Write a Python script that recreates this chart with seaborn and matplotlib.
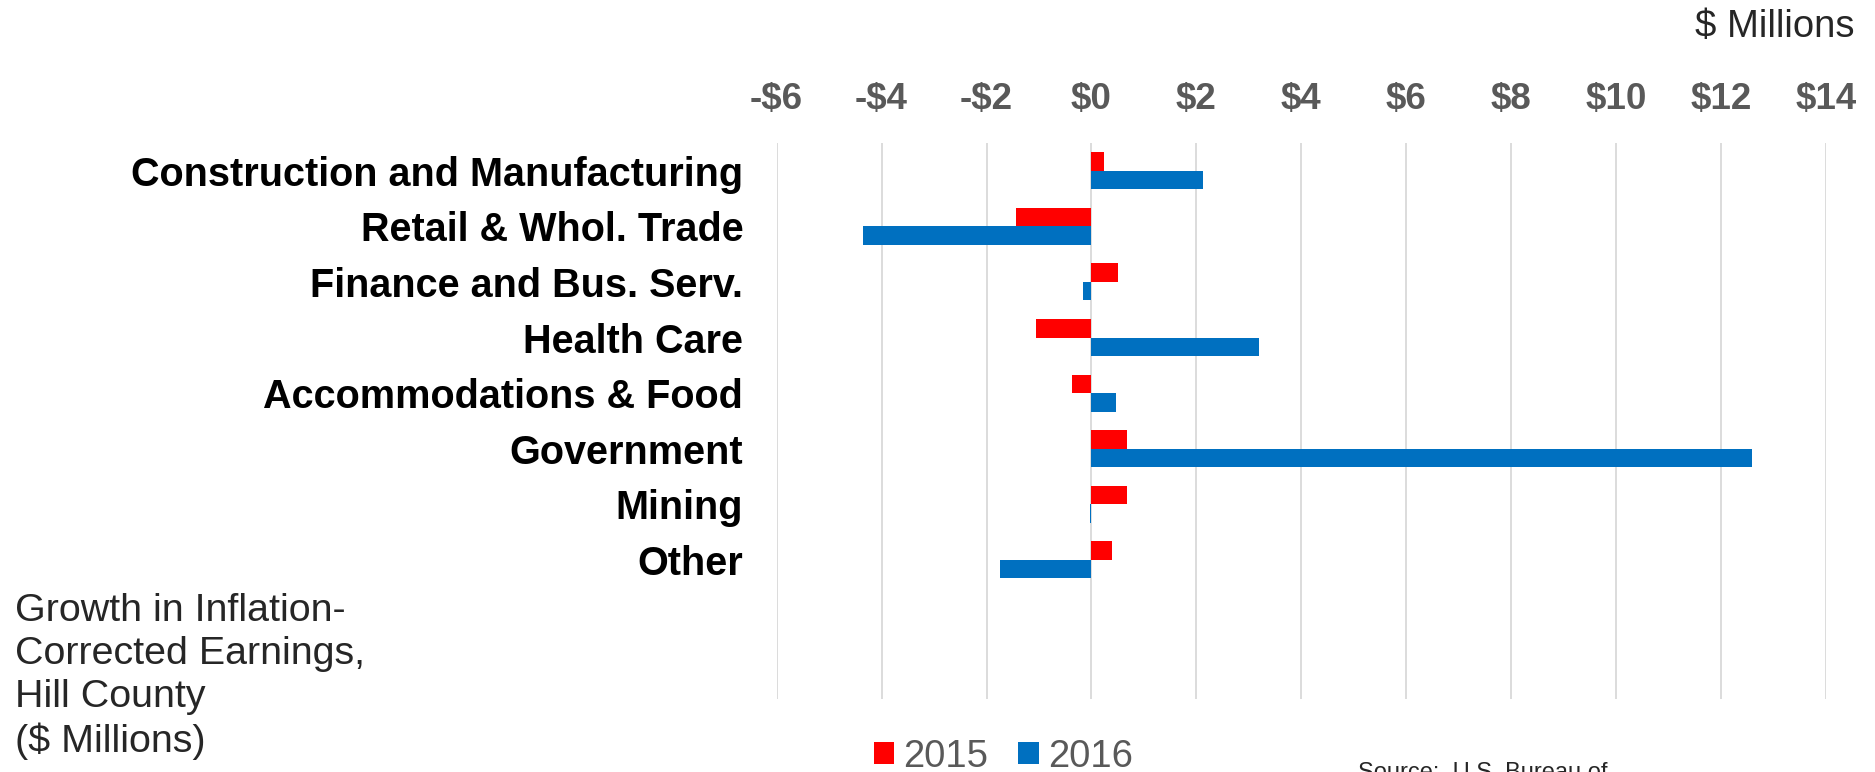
import pandas as pd
import numpy as np
import seaborn as sns
import matplotlib.pyplot as plt

# growth in inflation-corrected earnings, Hill County ($ millions)
categories = ['Construction and Manufacturing', 'Retail & Whol. Trade',
              'Finance and Bus. Serv.', 'Health Care', 'Accommodations & Food',
              'Government', 'Mining', 'Other']
values_2015 = [0.24, -1.43, 0.50, -1.06, -0.38, 0.67, 0.67, 0.39]
values_2016 = [2.12, -4.35, -0.17, 3.20, 0.46, 12.58, -0.03, -1.75]
years = ['2015', '2016']
tick_values = [-6, -4, -2, 0, 2, 4, 6, 8, 10, 12, 14]
tick_labels = ['-$6', '-$4', '-$2', '$0', '$2', '$4', '$6', '$8', '$10', '$12', '$14']

#long table for seaborn
df = pd.DataFrame({
    'category': categories * 2,
    'value': values_2015 + values_2016,
    'year': [years[0]] * len(categories) + [years[1]] * len(categories),
})

sns.set_theme(style='white')
plt.rcParams['font.family'] = ['Liberation Sans', 'DejaVu Sans']

fig = plt.figure(figsize=(18.75, 7.72), dpi=100)
ax = fig.add_axes([0.4142, 0.0946, 0.5597, 0.7202])

sns.barplot(data=df, y='category', x='value', hue='year', order=categories,
            hue_order=years, palette=['#FF0000', '#0070C0'], orient='h',
            width=0.666, saturation=1, linewidth=0, errorbar=None, ax=ax)

ax.set_xlim(-6, 14)
ax.set_ylim(9.5, -0.5)
ax.set_xticks(tick_values)
ax.set_xticklabels(tick_labels, fontsize=26.5, fontweight='bold', color='#595959')
ax.xaxis.tick_top()
ax.tick_params(axis='x', length=0, pad=19)
ax.tick_params(axis='y', length=0, pad=24, labelsize=28.5)
for t in ax.get_yticklabels():
    t.set_fontweight('bold')
    t.set_color('black')
ax.set_xlabel('')
ax.set_ylabel('')
ax.grid(axis='x', color='#D9D9D9', linewidth=1.3)
ax.grid(axis='y', visible=False)
ax.set_axisbelow(True)
for s in ax.spines.values():
    s.set_visible(False)

h, l = ax.get_legend_handles_labels()
ax.get_legend().remove()
fig.legend(h, l, ncol=2, loc='center', bbox_to_anchor=(0.535, 0.02),
           frameon=False, fontsize=27.5, labelcolor='#595959',
           handlelength=0.53, handleheight=0.53, handletextpad=0.24,
           columnspacing=0.8, borderpad=0)

fig.text(0.989, 0.952, '$ Millions', ha='right', va='baseline', fontsize=27.5)
fig.text(0.008, 0.026, 'Growth in Inflation-\nCorrected Earnings,\nHill County\n($ Millions)',
         ha='left', va='baseline', fontsize=28.4, linespacing=1.25)
fig.text(0.724, -0.009, 'Source:  U.S. Bureau of', ha='left', va='baseline', fontsize=17)

fig.savefig('out.png', dpi=100)
